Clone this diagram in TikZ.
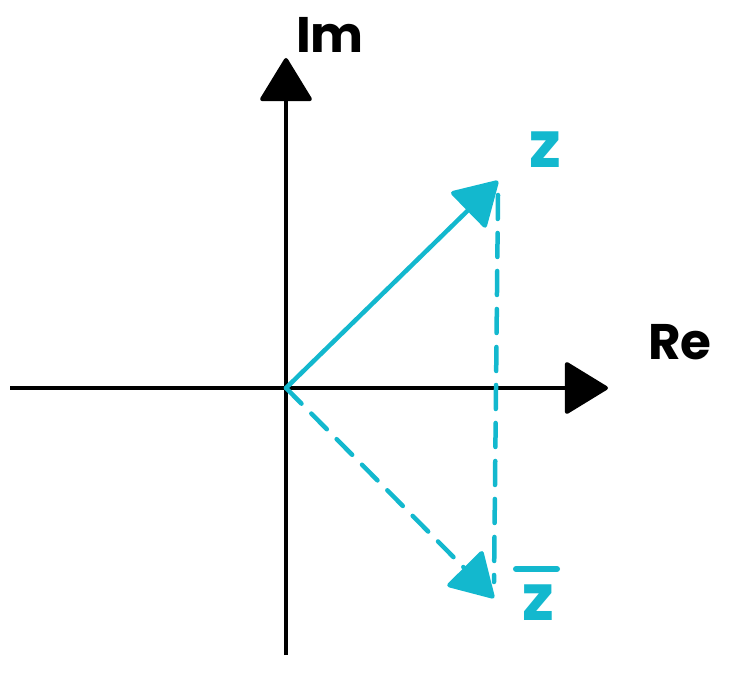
\documentclass[tikz,border=0pt]{standalone}
\usepackage{fontspec}
\newfontfamily\hand{Poppins}
\usetikzlibrary{arrows.meta}
\definecolor{zc}{HTML}{13B8CE}
\begin{document}
\begin{tikzpicture}[x=1pt,y=-1pt,
  axis/.style={line width=4pt,-{Triangle[length=45pt,width=54pt,round]}},
  vec/.style={zc,line width=4.5pt,line cap=round,-{Triangle[length=45pt,width=52pt,round]}},
  dsh/.style={zc,line width=4.5pt,line cap=round,dash pattern=on 24pt off 14pt},
  lab/.style={font=\hand\bfseries\fontsize{50}{52}\selectfont,inner sep=0pt},
  zlab/.style={zc,font=\hand\bfseries\fontsize{64}{66}\selectfont,inner sep=0pt}]
\useasboundingbox (0,0) rectangle (730,676);
\coordinate (O) at (286,388);
\coordinate (xl) at (10,388);
\coordinate (xr) at (608,388);
\coordinate (yb) at (286,655);
\coordinate (yt) at (286,58);
\coordinate (Z) at (498,181);
\coordinate (Zb) at (494,598);
\draw[axis] (xl) -- (xr);
\draw[axis] (yb) -- (yt);
\draw[vec] (O) -- (Z);
\draw[dsh] ([yshift=-14pt]Z) -- ([yshift=16pt]Zb);
\draw[vec,dash pattern=on 22pt off 14pt] (O) -- (Zb);
\node[lab] (im) at (330,35) {Im};
\node[lab] (re) at (680,342) {Re};
\node[zlab] (z) at (545,150) {z};
\node[zlab] (zb) at (538,603) {z};
\coordinate (b1) at (516,569);
\coordinate (b2) at (557,569);
\draw[zc,line width=6pt,line cap=round] (b1) -- (b2);
\end{tikzpicture}
\end{document}
